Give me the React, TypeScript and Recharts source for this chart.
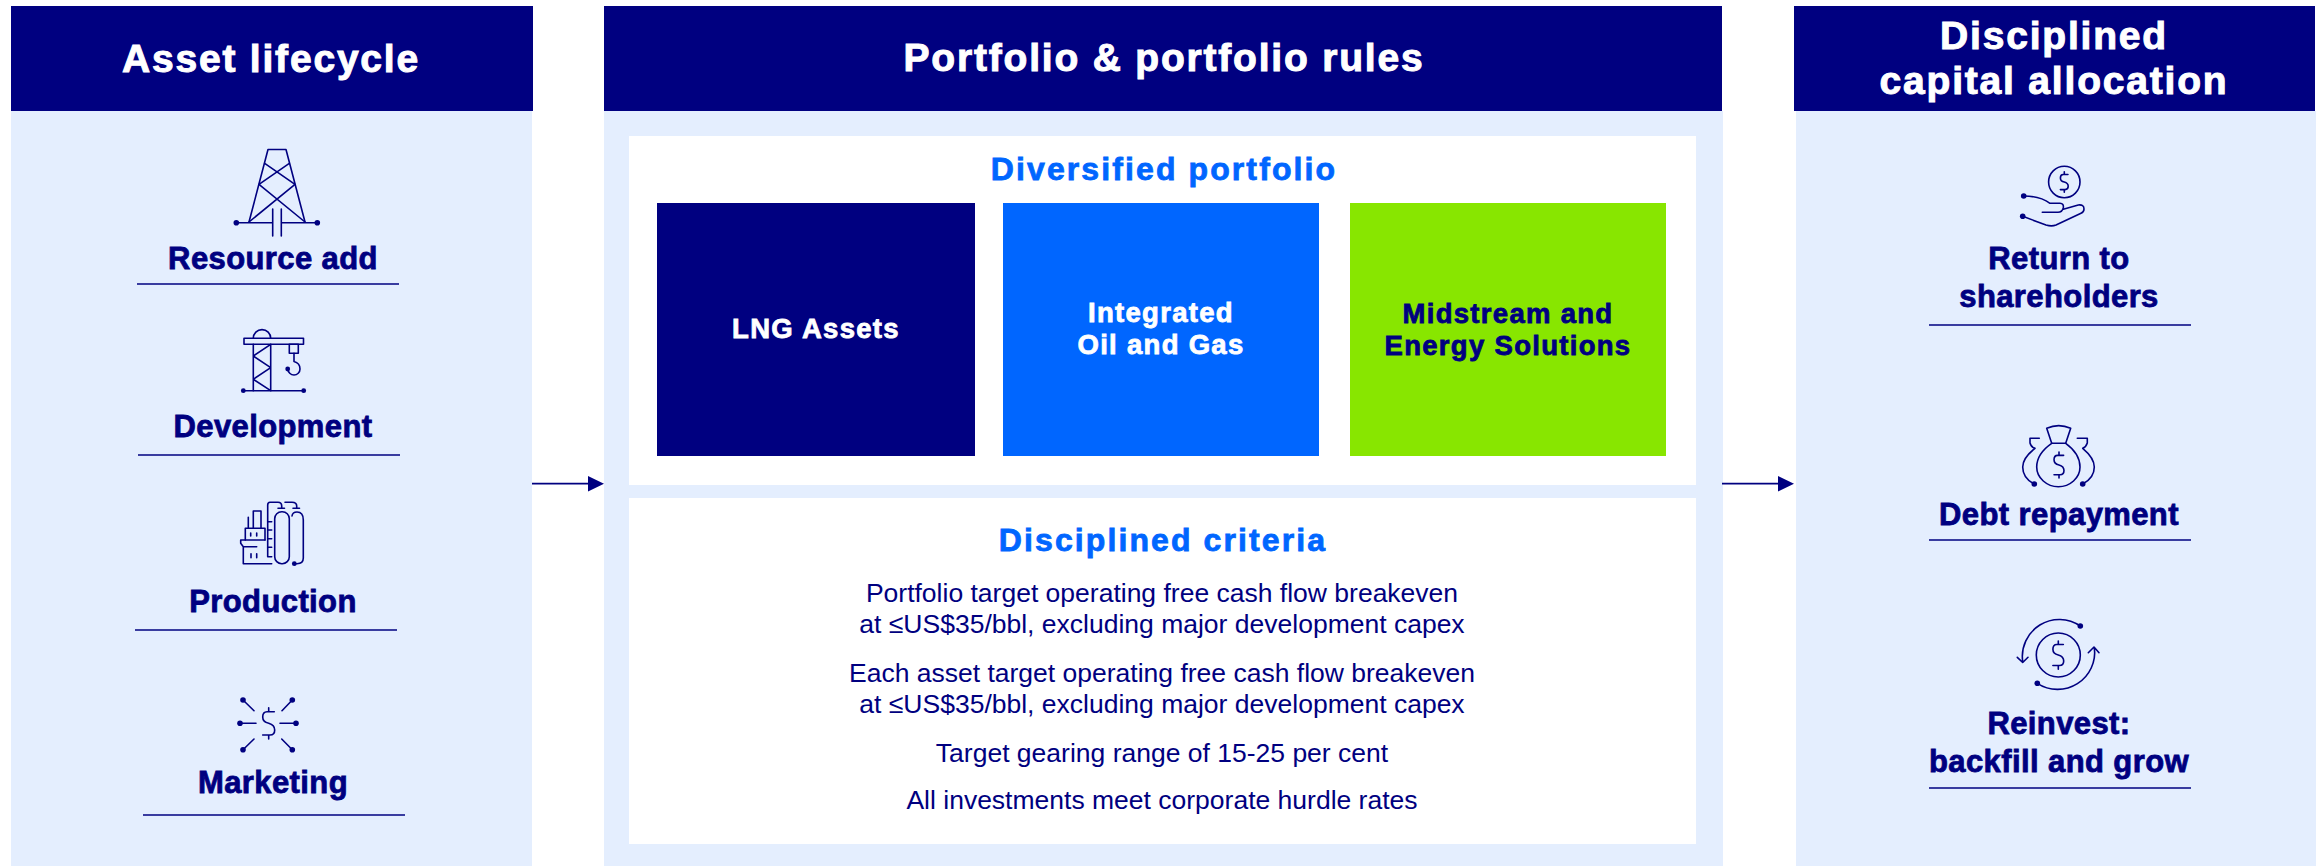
import { ComposedChart, XAxis, YAxis, Line, ReferenceArea, ReferenceLine } from 'recharts';

const NAVY = '#000080';
const BLUE = '#0066FF';
const GREEN = '#88E600';
const PALE = '#E4EEFE';
const FONT = '"Liberation Sans", Arial, sans-serif';

// text content
const headerTitles = ['Asset lifecycle', 'Portfolio & portfolio rules', 'Disciplined', 'capital allocation'];
const lifecycleStages = ['Resource add', 'Development', 'Production', 'Marketing'];
const allocationLabels = ['Return to', 'shareholders', 'Debt repayment', 'Reinvest:', 'backfill and grow'];
const portfolioLabels = ['LNG Assets', 'Integrated', 'Oil and Gas', 'Midstream and', 'Energy Solutions'];
const sectionTitles = ['Diversified portfolio', 'Disciplined criteria'];
const criteriaLines = [
  'Portfolio target operating free cash flow breakeven',
  'at ≤US$35/bbl, excluding major development capex',
  'Each asset target operating free cash flow breakeven',
  'at ≤US$35/bbl, excluding major development capex',
  'Target gearing range of 15-25 per cent',
  'All investments meet corporate hurdle rates',
];

// layout, in chart units (the axes map 1:1 to pixels)
const canvasCorners = [{ x: 0, y: 0 }, { x: 2323, y: 866 }];
const lifecycleBaselines = [269, 437, 612, 793];
const lifecycleRules = [[137, 399, 284], [138, 400, 455], [135, 397, 630], [143, 405, 815]];
const allocationBaselines = [269, 307, 525, 734, 772];
const allocationRules = [325, 540, 788];
const criteriaBaselines = [602, 633, 682, 713, 762, 809];

const Txt = ({ x, y, size, fill = NAVY, spacing = 0, bold = true, heavy = 0.8, children }: any) => (
  <text
    x={x}
    y={y}
    textAnchor="middle"
    fontFamily={FONT}
    fontSize={size}
    fontWeight={bold ? 700 : 400}
    letterSpacing={spacing}
    fill={fill}
    stroke={bold ? fill : 'none'}
    strokeWidth={bold ? heavy : 0}
  >
    {children}
  </text>
);

const Dollar = ({ x, y, s = 1 }: any) => (
  <path
    transform={`translate(${x} ${y}) scale(${s})`}
    d="M5.6 -11.6H-1.7Q-6 -11.6 -6 -6.3Q-6 -1.3 0 0Q6 1.7 6 6.7Q6 11.7 1.3 11.7H-6M0 -15.6V-11.6M0 11.7V15.7"
    vectorEffect="non-scaling-stroke"
  />
);

const Dot = ({ x, y, r = 2.8 }: any) => <circle cx={x} cy={y} r={r} fill={NAVY} stroke="none" />;

const Tower = () => (
  <g>
    <path d="M249 222L268 149.5H286L305 222" />
    <path d="M264.7 163.3L295 184.3M289.3 163.3L259 184.3M259 184.3L305 222M295 184.3L249 222" />
    <path d="M236 222.7H271.7M281.7 222.7H317M272.7 209V236M281.3 209V236" />
    <Dot x={236.3} y={222.7} />
    <Dot x={317.3} y={222.7} />
  </g>
);

const Crane = () => (
  <g>
    <rect x={244} y={338.3} width={59.5} height={6} />
    <path d="M253.3 338.3A8.7 8.7 0 0 1 270.7 338.3" />
    <path d="M253.3 344.3V390.7M270.7 344.3V390.7M270.7 344.3L253.3 356L270.7 367.7L253.3 379.3L270.7 390.7" />
    <path d="M243.3 390.7H303.7" />
    <rect x={289.3} y={344.3} width={9} height={9} />
    <path d="M294 353.3V361.5Q300 363 300 369A6 6 0 0 1 288 369" />
    <Dot x={243.3} y={390.7} r={2.4} />
    <Dot x={303.7} y={390.7} r={2.4} />
    <Dot x={287.7} y={369} r={2.4} />
  </g>
);

const Plant = () => (
  <g>
    <rect x={274.7} y={511.7} width={14.6} height={52} rx={7} />
    <path d="M292 516Q292.5 512 297 512Q303.3 512 303.3 520V558Q303.3 563.7 297 563.7H294.3" />
    <path d="M271.7 556.7H267.7V505Q267.7 502.3 270 502.3H278Q281.7 502.3 281.7 506V508.3M278 508.3H284.5" />
    <path d="M285 502.3H292Q296.7 502.3 296.7 506V508.3M293 508.3H299.5" />
    <path d="M267.7 521.7H271.7M267.7 530H271.7M267.7 538.7H271.7M267.7 547.3H271.7" />
    <path d="M253.3 528.3V511H261V528.3M248.3 517.3V528.3M245.3 540V528.3H265V540" />
    <path d="M265 540H240.7V543.3L243.3 546.7V563.7H271.7M243.3 546.7H256.7" />
    <path d="M250.7 533V536M256.7 533V536M251 553.7V557.7M256.7 553.7V557.7" />
    <Dot x={294.3} y={563.7} r={2.4} />
  </g>
);

const Network = () => (
  <g>
    <Dollar x={268.7} y={723.3} />
    <path d="M243 700L254 710.7M292.3 700L282 710.7M240 723.3H256M296 723.3H280M243 749.7L254 739M292.3 749.7L281.7 739" />
    <Dot x={243} y={700} />
    <Dot x={292.3} y={700} />
    <Dot x={240} y={723.3} />
    <Dot x={296} y={723.3} />
    <Dot x={243} y={749.7} />
    <Dot x={292.3} y={749.7} />
  </g>
);

const Hand = () => (
  <g>
    <circle cx={2064.3} cy={182} r={15.7} />
    <Dollar x={2064.3} y={182} s={0.65} />
    <path d="M2023.7 196Q2040 196 2050 203.3H2060Q2064 203.3 2063.3 208Q2062 212.3 2058 212.3H2042.3" />
    <path d="M2063.3 209.3L2078.3 205Q2084 204.3 2084 209Q2084 212 2081 213.3L2056 225Q2051.7 226.7 2046 225L2022.7 216.3" />
    <Dot x={2023.7} y={196} />
    <Dot x={2022.7} y={216.3} />
  </g>
);

const MoneyBag = () => (
  <g>
    <path d="M2051.7 443.3L2046.7 428.3Q2058.7 423 2070.7 428.3L2065.7 443.3Z" />
    <path d="M2051.7 443.3C2042 450 2036.7 458 2036.7 467C2036.7 478 2047 486.7 2058.3 486.7C2070 486.7 2080 478 2080 467C2080 458 2075 450 2065.7 443.3" />
    <Dollar x={2059} y={465} s={0.83} />
    <path d="M2039.3 438.3H2030V443Q2031 447 2035 448.3Q2022.7 458 2022.7 467Q2022.7 478 2034 484" />
    <path d="M2077.3 438.3H2087.3V443Q2086 447 2082.7 448.3Q2094.3 458 2094.3 467Q2094.3 478 2082.7 484" />
    <Dot x={2034.3} y={484} />
    <Dot x={2082.7} y={484} />
  </g>
);

const Recycle = () => (
  <g>
    <circle cx={2058.3} cy={655} r={22} />
    <Dollar x={2058.3} y={655} s={0.9} />
    <path d="M2080.3 626A37 37 0 0 0 2022.7 661.7M2017.3 657.3L2022.7 662.5L2028 657.3" />
    <path d="M2037.3 683.3A37 37 0 0 0 2094.3 647.3M2088.3 652.7L2094 647L2099 652.7" />
    <Dot x={2080.3} y={626} />
    <Dot x={2037.3} y={683.3} />
  </g>
);

const Arrow = ({ x1, x2 }: any) => (
  <g>
    <path d={`M${x1} 483.7H${x2 - 14}`} stroke={NAVY} strokeWidth={1.8} fill="none" />
    <path d={`M${x2 - 16} 476L${x2} 483.7L${x2 - 16} 491.5Z`} fill={NAVY} stroke="none" />
  </g>
);

const Box = ({ x1, x2, y1, y2, fill }: any) => (
  <ReferenceArea x1={x1} x2={x2} y1={y1} y2={y2} fill={fill} fillOpacity={1} stroke="none" ifOverflow="visible" />
);

const Rule = ({ x1, x2, y }: any) => (
  <ReferenceLine
    key={`${x1}-${y}`}
    segment={[{ x: x1, y }, { x: x2, y }]}
    stroke={NAVY}
    strokeWidth={1.5}
    ifOverflow="visible"
  />
);

// reference areas paint above plain svg children, so the text and icons ride in the last one
const Overlay = () => (
  <g>
    <Arrow x1={532} x2={604} />
    <Arrow x1={1722} x2={1794} />

    <g fill="none" stroke={NAVY} strokeWidth={1.6} strokeLinecap="round" strokeLinejoin="round">
      <Tower />
      <Crane />
      <Plant />
      <Network />
      <Hand />
      <MoneyBag />
      <Recycle />
    </g>

    <Txt x={271} y={72} size={39} spacing={1.8} heavy={1} fill="#fff">{headerTitles[0]}</Txt>
    <Txt x={1164} y={71} size={39} spacing={1.8} heavy={1} fill="#fff">{headerTitles[1]}</Txt>
    <Txt x={2054} y={49} size={39} spacing={1.8} heavy={1} fill="#fff">{headerTitles[2]}</Txt>
    <Txt x={2054} y={94} size={39} spacing={1.8} heavy={1} fill="#fff">{headerTitles[3]}</Txt>

    {lifecycleStages.map((s, i) => (
      <Txt key={s} x={273} y={lifecycleBaselines[i]} size={31} spacing={0.4}>{s}</Txt>
    ))}
    {allocationLabels.map((s, i) => (
      <Txt key={s} x={2059} y={allocationBaselines[i]} size={31} spacing={0.4}>{s}</Txt>
    ))}

    <Txt x={1164} y={180} size={32} spacing={2.1} fill={BLUE}>{sectionTitles[0]}</Txt>
    <Txt x={1163} y={551} size={32} spacing={2.1} fill={BLUE}>{sectionTitles[1]}</Txt>

    <Txt x={816} y={338} size={27.5} spacing={1.3} fill="#fff">{portfolioLabels[0]}</Txt>
    <Txt x={1161} y={322} size={27.5} spacing={1.3} fill="#fff">{portfolioLabels[1]}</Txt>
    <Txt x={1161} y={354} size={27.5} spacing={1.3} fill="#fff">{portfolioLabels[2]}</Txt>
    <Txt x={1508} y={323} size={27.5} spacing={1.3}>{portfolioLabels[3]}</Txt>
    <Txt x={1508} y={355} size={27.5} spacing={1.3}>{portfolioLabels[4]}</Txt>

    {criteriaLines.map((s, i) => (
      <Txt key={i} x={1162} y={criteriaBaselines[i]} size={26.5} bold={false}>{s}</Txt>
    ))}
  </g>
);

export default function App() {
  return (
    <div style={{ position: 'absolute', left: 0, top: 0, background: '#fff' }}>
      <ComposedChart width={2323} height={866} data={canvasCorners} margin={{ top: 0, right: 0, bottom: 0, left: 0 }}>
        <XAxis type="number" dataKey="x" domain={[0, 2323]} hide />
        <YAxis type="number" dataKey="y" domain={[0, 866]} reversed hide />
        <Line dataKey="y" stroke="none" dot={false} legendType="none" isAnimationActive={false} />

        {/* column panels */}
        {Box({ x1: 11, x2: 532, y1: 111, y2: 866, fill: PALE })}
        {Box({ x1: 604, x2: 1723, y1: 111, y2: 866, fill: PALE })}
        {Box({ x1: 1796, x2: 2316, y1: 111, y2: 866, fill: PALE })}

        {/* headers */}
        {Box({ x1: 11, x2: 533, y1: 6, y2: 111, fill: NAVY })}
        {Box({ x1: 604, x2: 1722, y1: 6, y2: 111, fill: NAVY })}
        {Box({ x1: 1794, x2: 2315, y1: 6, y2: 111, fill: NAVY })}

        {/* white cards + portfolio blocks */}
        {Box({ x1: 629, x2: 1696, y1: 136, y2: 485, fill: '#FFFFFF' })}
        {Box({ x1: 629, x2: 1696, y1: 498, y2: 844, fill: '#FFFFFF' })}
        {Box({ x1: 657, x2: 975, y1: 203, y2: 456, fill: NAVY })}
        {Box({ x1: 1003, x2: 1319, y1: 203, y2: 456, fill: BLUE })}
        {Box({ x1: 1350, x2: 1666, y1: 203, y2: 456, fill: GREEN })}

        {lifecycleRules.map(([x1, x2, y]) => Rule({ x1, x2, y }))}
        {allocationRules.map((y) => Rule({ x1: 1929, x2: 2191, y }))}

        <ReferenceArea x1={0} x2={2323} y1={0} y2={866} ifOverflow="visible" shape={() => <Overlay />} />
      </ComposedChart>
    </div>
  );
}
